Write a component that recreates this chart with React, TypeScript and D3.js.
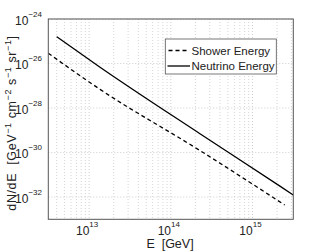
import React from "react";
import * as d3 from "d3";

const W = 324;
const H = 252;

// Neutrino energy spectrum (solid)
const neutrinoE = [4.0e12, 1.36e13, 2.3e14, 2.17e15, 3.16e15];
const neutrinoFlux = [1.6e-25, 6.8e-27, 6.8e-30, 3.1e-32, 1.24e-32];

// Shower energy spectrum (dashed)
const showerE = [3.16e12, 1.36e13, 2.3e14, 2.48e15];
const showerFlux = [2.9e-26, 6.9e-28, 1.2e-30, 4.4e-33];

const xTickExps = [13, 14, 15];
const yTickExps = [-24, -26, -28, -30, -32];
const legendLabels = ["Shower Energy", "Neutrino Energy"];

const FONT = "'Liberation Sans', Arial, Helvetica, sans-serif";

export default function App() {
  const m = { left: 48.3, right: 293.3, top: 19, bottom: 219.3 };
  const x = d3.scaleLog().domain([Math.pow(10, 12.5), Math.pow(10, 15.5)]).range([m.left, m.right]);
  const y = d3.scaleLog().domain([1e-33, 1e-24]).range([m.bottom, m.top]);

  const line = d3
    .line<[number, number]>()
    .x((d) => x(d[0]))
    .y((d) => y(d[1]))
    .curve(d3.curveMonotoneX);

  const nData = neutrinoE.map((e, i) => [e, neutrinoFlux[i]] as [number, number]);
  const sData = showerE.map((e, i) => [e, showerFlux[i]] as [number, number]);

  const minorX: number[] = [];
  for (let dec = 12; dec <= 15; dec++) {
    for (let k = 2; k <= 9; k++) {
      const v = k * Math.pow(10, dec);
      if (v > x.domain()[0] && v < x.domain()[1]) minorX.push(v);
    }
  }

  const gridColor = "#b8b8b8";
  const axisColor = "#555";

  return (
    <svg
      width={W}
      height={H}
      style={{ position: "absolute", left: 0, top: 0, background: "#fff" }}
      fontFamily={FONT}
    >
      <rect x={0} y={0} width={W} height={H} fill="#fff" />
      <defs>
        <clipPath id="plotclip">
          <rect x={m.left} y={m.top} width={m.right - m.left} height={m.bottom - m.top} />
        </clipPath>
      </defs>
      {minorX.map((v, i) => (
        <line
          key={"mx" + i}
          x1={x(v)}
          x2={x(v)}
          y1={m.top}
          y2={m.bottom}
          stroke={gridColor}
          strokeWidth={0.6}
          strokeDasharray="1,2"
        />
      ))}
      {xTickExps.map((e) => (
        <line
          key={"gx" + e}
          x1={x(Math.pow(10, e))}
          x2={x(Math.pow(10, e))}
          y1={m.top}
          y2={m.bottom}
          stroke={gridColor}
          strokeWidth={0.7}
          strokeDasharray="1,2"
        />
      ))}
      {yTickExps.map((e) => (
        <line
          key={"gy" + e}
          x1={m.left}
          x2={m.right}
          y1={y(Math.pow(10, e))}
          y2={y(Math.pow(10, e))}
          stroke={gridColor}
          strokeWidth={0.7}
          strokeDasharray="1,2"
        />
      ))}

      <g clipPath="url(#plotclip)">
        <path d={line(sData) || ""} fill="none" stroke="#000" strokeWidth={1.3} strokeDasharray="4,3" />
        <path d={line(nData) || ""} fill="none" stroke="#000" strokeWidth={1.3} />
      </g>

      <rect
        x={m.left}
        y={m.top}
        width={m.right - m.left}
        height={m.bottom - m.top}
        fill="none"
        stroke={axisColor}
        strokeWidth={1}
      />

      {yTickExps.map((e) => {
        const yy = y(Math.pow(10, e));
        return (
          <text key={"ty" + e} x={42} y={yy + 5.5} textAnchor="end" fontSize={12} fill="#222">
            10
            <tspan dy={-8} fontSize={8}>
              {"\u2212" + Math.abs(e)}
            </tspan>
          </text>
        );
      })}

      {xTickExps.map((e) => {
        const xx = x(Math.pow(10, e));
        return (
          <text key={"tx" + e} x={xx - 2} y={235} textAnchor="middle" fontSize={12} fill="#222">
            10
            <tspan dy={-8} fontSize={8}>
              {String(e)}
            </tspan>
          </text>
        );
      })}

      <text x={170} y={248} textAnchor="middle" fontSize={12.5} fill="#222" style={{ whiteSpace: "pre" }}>
        {"E  [GeV]"}
      </text>

      <text
        transform={`translate(15.5, 123) rotate(-90)`}
        textAnchor="middle"
        fontSize={12.5}
        fill="#222"
        letterSpacing={0.6}
        style={{ whiteSpace: "pre" }}
      >
        {"dN/dE  [GeV"}
        <tspan dy={-5} fontSize={9}>{"\u22121"}</tspan>
        <tspan dy={5}>{" cm"}</tspan>
        <tspan dy={-5} fontSize={9}>{"\u22122"}</tspan>
        <tspan dy={5}>{" s"}</tspan>
        <tspan dy={-5} fontSize={9}>{"\u22121"}</tspan>
        <tspan dy={5}>{" sr"}</tspan>
        <tspan dy={-5} fontSize={9}>{"\u22121"}</tspan>
        <tspan dy={5}>{"]"}</tspan>
      </text>

      <rect x={165.3} y={39} width={111} height={35} fill="#fff" stroke={axisColor} strokeWidth={0.8} />
      <line x1={168.5} x2={189} y1={50.5} y2={50.5} stroke="#000" strokeWidth={1.3} strokeDasharray="4,3" />
      <line x1={167.5} x2={190} y1={66} y2={66} stroke="#000" strokeWidth={1.3} />
      <text x={191.5} y={54.5} fontSize={11.5} fill="#222">
        {legendLabels[0]}
      </text>
      <text x={191.5} y={70} fontSize={11.5} fill="#222">
        {legendLabels[1]}
      </text>
    </svg>
  );
}
